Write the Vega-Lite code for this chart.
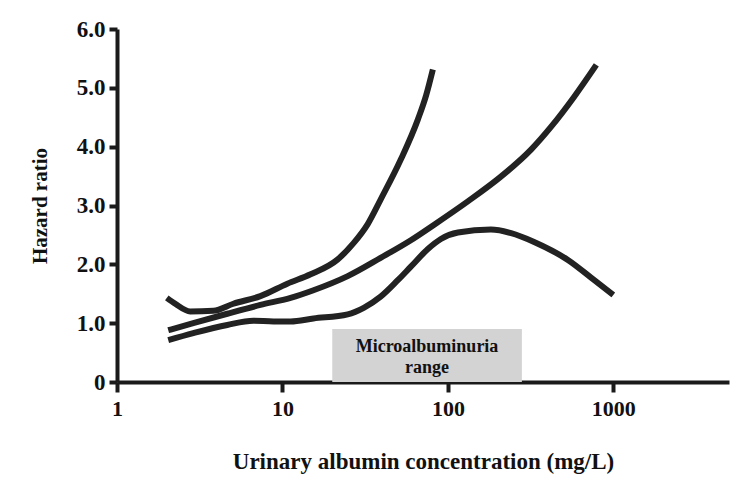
{
  "$schema": "https://vega.github.io/schema/vega-lite/v6.json",
  "width": 612,
  "height": 353,
  "autosize": "none",
  "padding": {"left": 117, "top": 29, "right": 15, "bottom": 118},
  "background": "white",
  "config": {
    "view": {"stroke": null},
    "font": "Liberation Serif",
    "axis": {
      "grid": false,
      "domainColor": "#1a1a1a",
      "domainWidth": 4,
      "tickColor": "#1a1a1a",
      "tickWidth": 4,
      "labelFont": "Liberation Serif",
      "labelFontWeight": "bold",
      "labelColor": "#111",
      "titleFont": "Liberation Serif",
      "titleFontWeight": "bold",
      "titleColor": "#111"
    }
  },
  "datasets": {
    "curves": [
      {"series": "upper", "conc": 2.0, "hr": 1.43},
      {"series": "upper", "conc": 2.25, "hr": 1.33},
      {"series": "upper", "conc": 2.77, "hr": 1.2},
      {"series": "upper", "conc": 3.82, "hr": 1.21},
      {"series": "upper", "conc": 5.05, "hr": 1.33},
      {"series": "upper", "conc": 7.36, "hr": 1.46},
      {"series": "upper", "conc": 10.7, "hr": 1.67},
      {"series": "upper", "conc": 14.8, "hr": 1.83},
      {"series": "upper", "conc": 21.5, "hr": 2.08},
      {"series": "upper", "conc": 26.9, "hr": 2.36},
      {"series": "upper", "conc": 32.7, "hr": 2.68},
      {"series": "upper", "conc": 39.2, "hr": 3.10},
      {"series": "upper", "conc": 51.9, "hr": 3.78},
      {"series": "upper", "conc": 65.8, "hr": 4.46},
      {"series": "upper", "conc": 74.0, "hr": 4.88},
      {"series": "upper", "conc": 81.1, "hr": 5.31},
      {"series": "middle", "conc": 2.04, "hr": 0.88},
      {"series": "middle", "conc": 2.89, "hr": 1.00},
      {"series": "middle", "conc": 4.64, "hr": 1.16},
      {"series": "middle", "conc": 7.36, "hr": 1.31},
      {"series": "middle", "conc": 11.2, "hr": 1.43},
      {"series": "middle", "conc": 15.4, "hr": 1.56},
      {"series": "middle", "conc": 24.8, "hr": 1.80},
      {"series": "middle", "conc": 39.2, "hr": 2.11},
      {"series": "middle", "conc": 59.7, "hr": 2.41},
      {"series": "middle", "conc": 82.2, "hr": 2.67},
      {"series": "middle", "conc": 132, "hr": 3.07},
      {"series": "middle", "conc": 209, "hr": 3.49},
      {"series": "middle", "conc": 318, "hr": 3.95},
      {"series": "middle", "conc": 421, "hr": 4.34},
      {"series": "middle", "conc": 580, "hr": 4.85},
      {"series": "middle", "conc": 789, "hr": 5.39},
      {"series": "lower", "conc": 2.04, "hr": 0.71},
      {"series": "lower", "conc": 2.89, "hr": 0.83},
      {"series": "lower", "conc": 4.64, "hr": 0.97},
      {"series": "lower", "conc": 6.67, "hr": 1.04},
      {"series": "lower", "conc": 8.82, "hr": 1.03},
      {"series": "lower", "conc": 11.2, "hr": 1.03},
      {"series": "lower", "conc": 15.4, "hr": 1.08},
      {"series": "lower", "conc": 24.8, "hr": 1.15},
      {"series": "lower", "conc": 31.0, "hr": 1.26},
      {"series": "lower", "conc": 39.2, "hr": 1.45},
      {"series": "lower", "conc": 49.8, "hr": 1.73},
      {"series": "lower", "conc": 59.7, "hr": 1.96},
      {"series": "lower", "conc": 75.7, "hr": 2.26},
      {"series": "lower", "conc": 90.7, "hr": 2.43},
      {"series": "lower", "conc": 115, "hr": 2.54},
      {"series": "lower", "conc": 182, "hr": 2.59},
      {"series": "lower", "conc": 241, "hr": 2.53},
      {"series": "lower", "conc": 332, "hr": 2.38},
      {"series": "lower", "conc": 534, "hr": 2.07},
      {"series": "lower", "conc": 767, "hr": 1.73},
      {"series": "lower", "conc": 1000, "hr": 1.48}
    ],
    "band": [{"from": 20, "to": 280, "lo": 0, "hi": 0.9}],
    "labels": [
      {"text": "Microalbuminuria", "conc": 74.8, "hr": 0.6},
      {"text": "range", "conc": 74.8, "hr": 0.24}
    ]
  },
  "layer": [
    {
      "data": {"name": "band"},
      "mark": {"type": "rect", "color": "#d3d3d3"},
      "encoding": {
        "x": {"field": "from", "type": "quantitative", "scale": {"type": "log", "domain": [1, 5000], "nice": false},
          "axis": {"values": [1, 10, 100, 1000], "format": "d", "labelFontSize": 22, "tickSize": 10, "labelPadding": 6, "labelFlush": false,
            "title": "Urinary albumin concentration (mg/L)", "titleFontSize": 23, "titlePadding": 31}},
        "x2": {"field": "to"},
        "y": {"field": "lo", "type": "quantitative", "scale": {"domain": [0, 6], "nice": false},
          "axis": {"values": [0, 1, 2, 3, 4, 5, 6], "labelExpr": "datum.value == 0 ? '0' : format(datum.value, '.1f')", "labelFontSize": 23, "tickSize": 8, "labelPadding": 4,
            "title": "Hazard ratio", "titleFontSize": 21, "titlePadding": 26}},
        "y2": {"field": "hi"}
      }
    },
    {
      "data": {"name": "labels"},
      "mark": {"type": "text", "font": "Liberation Serif", "fontWeight": "bold", "fontSize": 18, "color": "#111", "baseline": "middle"},
      "encoding": {
        "x": {"field": "conc", "type": "quantitative"},
        "y": {"field": "hr", "type": "quantitative"},
        "text": {"field": "text"}
      }
    },
    {
      "data": {"name": "curves"},
      "mark": {"type": "line", "color": "#222", "strokeWidth": 6, "strokeCap": "butt", "strokeJoin": "round", "interpolate": "monotone"},
      "encoding": {
        "x": {"field": "conc", "type": "quantitative"},
        "y": {"field": "hr", "type": "quantitative"},
        "detail": {"field": "series"}
      }
    }
  ]
}
